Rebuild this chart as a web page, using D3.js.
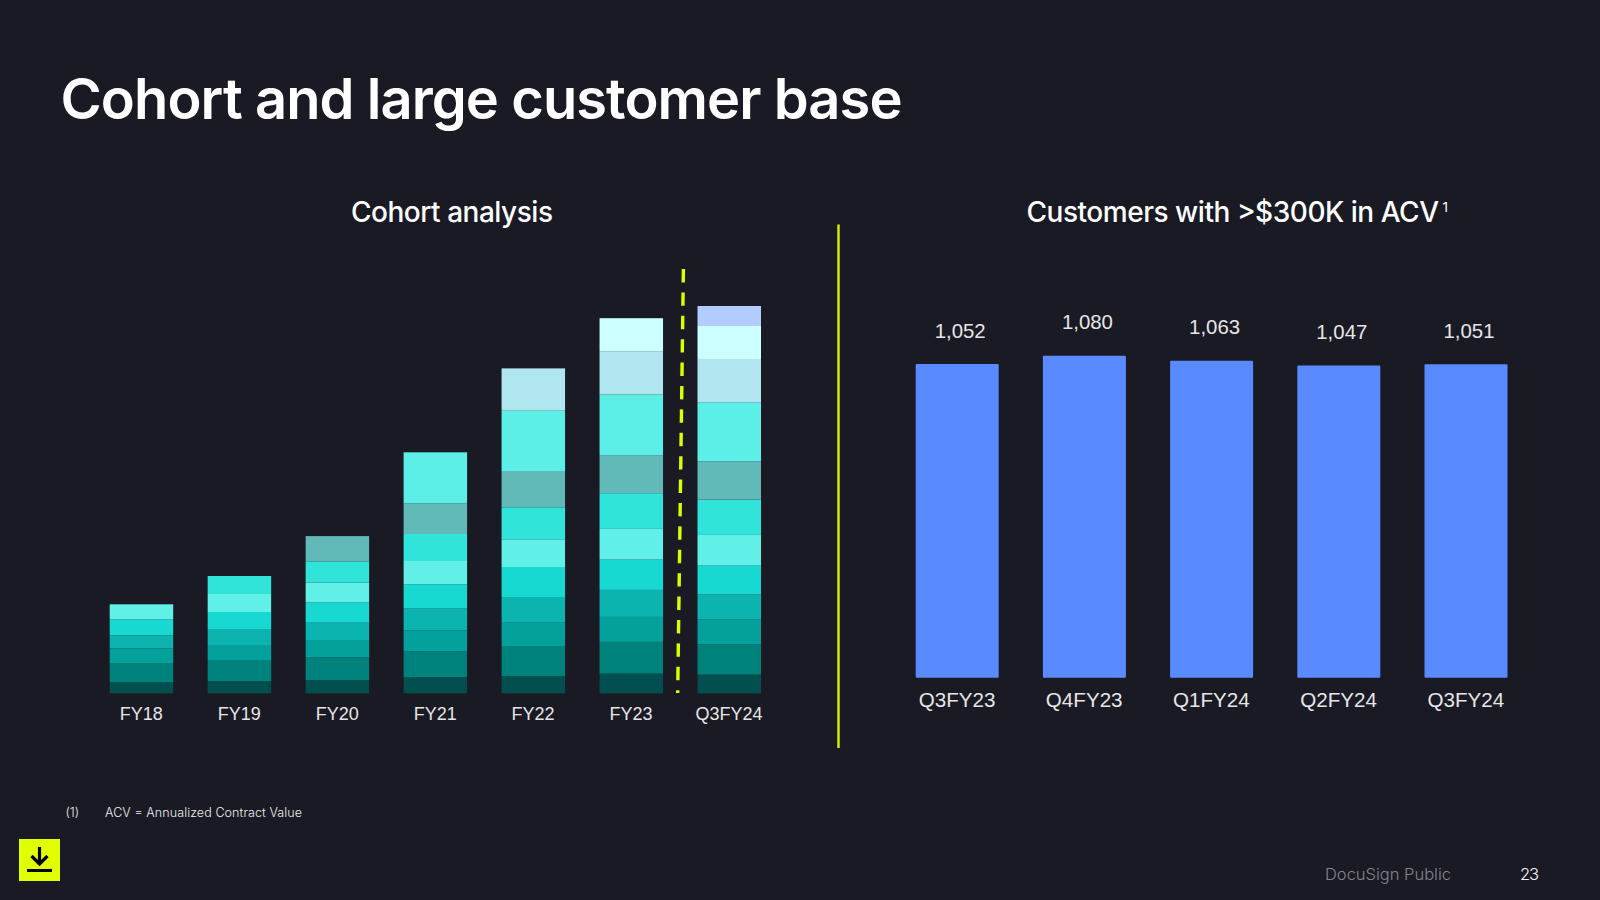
<!DOCTYPE html>
<html>
<head>
<meta charset="utf-8">
<title>Cohort and large customer base</title>
<script src="https://cdn.jsdelivr.net/npm/d3@7"></script>
<style>
  html, body { margin: 0; padding: 0; background: #1a1a24; }
  svg { display: block; }
  text { font-family: "Inter", sans-serif; fill: #ffffff; }
  .tick text { font-family: "Liberation Sans", Arial, sans-serif; fill: #e6e6e6; }
  .value { font-family: "Liberation Sans", Arial, sans-serif; fill: #e6e6e6; font-size: 20.4px; }
</style>
</head>
<body>
<svg id="slide" width="1600" height="900"></svg>
<script>
// Cohort analysis: annual stacks, oldest cohort first (units are relative, no axis is printed)
const cohortPeriods = ["FY18", "FY19", "FY20", "FY21", "FY22", "FY23", "Q3FY24"];
const fy18 = [11, 19.3, 14.7, 13, 16, 15];
const fy19 = [12.3, 21, 15, 15.3, 17.7, 18, 18];
const fy20 = [13.3, 22.7, 17.3, 17.3, 20.3, 19.7, 21.3, 25.3];
const fy21 = [16, 26, 20.7, 22, 24.3, 23.3, 27, 30.7, 51];
const fy22 = [17.3, 30, 23.3, 25.7, 30, 27.7, 32, 36.3, 60.3, 42.3];
const fy23 = [19.7, 31.7, 25, 27, 30.3, 30.7, 35.7, 38, 60.7, 43.3, 33];
const q3fy24 = [18.7, 30.3, 25, 24.7, 29, 30.7, 35.3, 38.3, 59, 43.3, 33, 20];
const cohortStacks = [fy18, fy19, fy20, fy21, fy22, fy23, q3fy24];
const cohortColors = ["#024f4f", "#00827c", "#04a09c", "#0cb4b0", "#18d8d2", "#60f0e8",
                      "#30e4da", "#62bab8", "#5cefe8", "#b0e6f0", "#ccffff", "#b3ccff"];

// Customers with more than $300K in ACV
const acvQuarters = ["Q3FY23", "Q4FY23", "Q1FY24", "Q2FY24", "Q3FY24"];
const acvCustomers = [1052, 1080, 1063, 1047, 1051];

const svg = d3.select("#slide");
svg.append("rect").attr("width", 1600).attr("height", 900).attr("fill", "#1a1a24");

// Headings
function label(text, x, y, size, weight, width, fill) {
  const t = svg.append("text").attr("x", x).attr("y", y)
    .attr("font-size", size).attr("font-weight", weight).text(text);
  if (width) t.attr("textLength", width).attr("lengthAdjust", "spacing");
  if (fill) t.style("fill", fill);
  return t;
}
label("Cohort and large customer base", 60.5, 119, 56, 600, 842);
label("Cohort analysis", 351, 222, 28, 500, 202);
label("Customers with >$300K in ACV", 1026.5, 222, 28, 500, 412.5);
label("1", 1442.5, 211.7, 13.5, 400);

// Left chart: stacked cohorts
const cohortX = d3.scaleBand().domain(cohortPeriods).range([109.7, 761]).paddingInner(0.352).paddingOuter(0);
const cohortY = d3.scaleLinear().domain([0, 400]).range([693.3, 293.3]);
const layerKeys = d3.range(cohortColors.length);
const cohortRows = cohortStacks.map((values, i) => ({ period: cohortPeriods[i], values }));
const layers = d3.stack().keys(layerKeys).value((d, k) => d.values[k] || 0)(cohortRows);

svg.append("g").selectAll("g").data(layers).join("g")
  .attr("fill", d => cohortColors[d.key])
  .selectAll("rect").data(d => d.filter(s => s[1] > s[0])).join("rect")
  .attr("x", d => cohortX(d.data.period))
  .attr("width", cohortX.bandwidth())
  .attr("y", d => cohortY(d[1]))
  .attr("height", d => cohortY(d[0]) - cohortY(d[1]));

const cohortAxis = svg.append("g").attr("transform", "translate(-0.2,701)")
  .call(d3.axisBottom(cohortX).tickSize(0).tickPadding(0));
cohortAxis.select(".domain").remove();
cohortAxis.selectAll("text").attr("font-size", 18).attr("dy", "19px");

// Dashed divider between full years and the current year
svg.append("line")
  .attr("x1", 683.4).attr("y1", 269).attr("x2", 677.7).attr("y2", 693)
  .attr("stroke", "#dcff00").attr("stroke-width", 3.4).attr("stroke-dasharray", "13.4 10");

// Solid divider between the two panels
svg.append("line")
  .attr("x1", 838.5).attr("y1", 224.5).attr("x2", 838.5).attr("y2", 748)
  .attr("stroke", "#d8f500").attr("stroke-width", 2.4);

// Right chart: customer counts
const acvX = d3.scaleBand().domain(acvQuarters).range([915.7, 1507.5]).paddingInner(0.3475).paddingOuter(0);
const acvY = d3.scaleLinear().domain([0, 1080]).range([677.7, 355.7]);

svg.append("g").selectAll("rect").data(acvCustomers).join("rect")
  .attr("x", (d, i) => acvX(acvQuarters[i]))
  .attr("width", acvX.bandwidth())
  .attr("y", d => acvY(d))
  .attr("height", d => acvY(0) - acvY(d))
  .attr("rx", 1)
  .attr("fill", "#5a8aff");

svg.append("g").selectAll("text").data(acvCustomers).join("text")
  .attr("class", "value")
  .attr("text-anchor", "middle")
  .attr("x", (d, i) => acvX(acvQuarters[i]) + acvX.bandwidth() / 2 + 3)
  .attr("y", d => acvY(d) - 26.4)
  .text(d3.format(","));

const acvAxis = svg.append("g").attr("transform", "translate(-0.2,688)")
  .call(d3.axisBottom(acvX).tickSize(0).tickPadding(0));
acvAxis.select(".domain").remove();
acvAxis.selectAll("text").attr("font-size", 20.6).attr("dy", "19px");

// Footnote and footer
label("(1)", 65.5, 816.5, 12.5, 300, null, "#eeeeee");
label("ACV = Annualized Contract Value", 105, 816.5, 12.5, 300, 197, "#eeeeee");
label("DocuSign Public", 1325, 880, 16.5, 300, 126, "#85858b");
label("23", 1520, 880, 16.5, 300, 19, "#f5f5f5");

// Download badge
const badge = svg.append("g").attr("transform", "translate(19,839)");
badge.append("rect").attr("width", 41).attr("height", 42).attr("fill", "#e0ff00");
badge.append("path").attr("d", "M20.5 8V24M12.5 17L20.5 25L28.5 17M8 31.5H33")
  .attr("fill", "none").attr("stroke", "#000").attr("stroke-width", 3.2);
</script>
</body>
</html>
